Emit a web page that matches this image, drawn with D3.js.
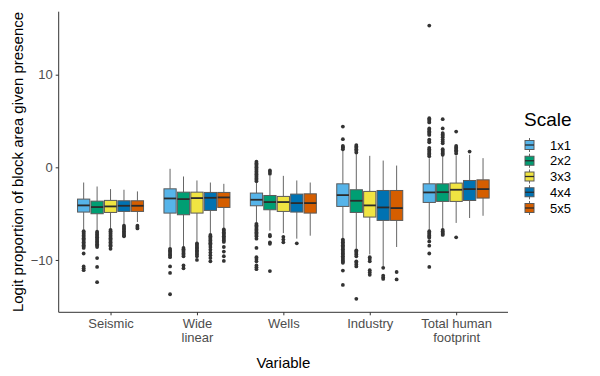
<!DOCTYPE html>
<html>
<head>
<meta charset="utf-8">
<script src="https://cdn.jsdelivr.net/npm/d3@7"></script>
<style>
  html, body { margin: 0; padding: 0; background: #fff; }
  svg { display: block; font-family: "Liberation Sans", Arial, sans-serif; }
</style>
</head>
<body>
<svg id="chart" width="600" height="376"></svg>
<script>
// ---------------- DATA ----------------
const categories = ["Seismic", "Wide\nlinear", "Wells", "Industry", "Total human\nfootprint"];
const scales = ["1x1", "2x2", "3x3", "4x4", "5x5"];
const scaleColors = ["#56B4E9", "#009E73", "#F0E442", "#0072B2", "#D55E00"];
const yTicks = [-10, 0, 10];

// box statistics, indexed [scale][category]
const whiskerLow = [
  [-6.73, -8.70, -6.00, -7.70, -6.80],
  [-6.84, -8.64, -6.84, -8.80, -6.66],
  [-6.66, -8.10, -7.10, -9.40, -6.00],
  [-6.20, -7.17, -7.70, -10.70, -5.47],
  [-5.90, -6.55, -7.38, -8.60, -5.23]
];
const q1 = [
  [-4.83, -4.94, -4.15, -4.22, -3.79],
  [-5.01, -5.12, -4.58, -4.87, -3.68],
  [-4.87, -4.94, -4.76, -5.37, -3.68],
  [-4.76, -4.65, -4.83, -5.73, -3.58],
  [-4.76, -4.33, -4.94, -5.73, -3.32]
];
const median = [
  [-4.11, -3.36, -3.50, -3.00, -2.71],
  [-4.29, -3.43, -3.75, -3.61, -2.68],
  [-4.22, -3.32, -3.75, -4.11, -2.42],
  [-4.15, -3.29, -3.86, -4.33, -2.35],
  [-4.15, -3.25, -3.86, -4.40, -2.35]
];
const q3 = [
  [-3.43, -2.32, -2.78, -1.78, -1.78],
  [-3.65, -2.68, -3.04, -2.42, -1.78],
  [-3.57, -2.68, -3.14, -2.60, -1.70],
  [-3.61, -2.71, -2.89, -2.50, -1.42],
  [-3.61, -2.71, -2.86, -2.50, -1.35]
];
const whiskerHigh = [
  [-1.64, -0.16, -1.60, 1.81, 0.99],
  [-2.07, -0.99, -0.92, 1.42, 1.24],
  [-2.35, -1.42, -0.92, 1.24, 1.27],
  [-2.42, -1.64, -1.42, 0.73, 1.35],
  [-2.60, -1.78, -1.64, 0.19, 0.99]
];
// outliers, indexed [scale][category]
const outliers = [
  [
    [-6.9, -7.05, -7.2, -7.35, -7.5, -7.65, -7.8, -7.95, -8.1, -8.25, -8.4, -8.55, -8.7, -9.3, -10.7, -10.9, -11.1],
    [-8.8, -8.95, -9.1, -9.25, -9.4, -9.55, -9.7, -10.7, -11.4, -13.7],
    [0.6, 0.45, 0.3, 0.15, 0.0, -0.15, -0.3, -0.45, -0.6, -0.75, -0.9, -1.05, -1.2, -1.35, -1.5,
     -6.1, -6.25, -6.4, -6.55, -6.7, -6.85, -7.0, -7.15, -7.3, -7.45, -7.7, -8.7, -9.7, -9.9, -10.15, -10.6, -10.8, -11.0],
    [4.4, 3.04, 2.3, 2.2, 2.1, 1.95,
     -7.8, -7.95, -8.1, -8.25, -8.4, -8.55, -8.7, -8.85, -9.0, -9.15, -9.3, -9.45, -9.6, -9.75, -9.9, -10.05, -10.2, -10.3, -11.15, -12.7],
    [15.3, 5.3, 5.15, 5.0, 4.85, 4.2, 4.05, 3.9, 3.75, 3.6, 3.5, 3.0, 2.85, 2.7, 2.1, 1.95, 1.8, 1.65, 1.5, 1.35, 1.2,
     -6.9, -7.05, -7.2, -7.35, -7.5, -7.6, -8.0, -8.46, -9.3, -10.75]
  ],
  [
    [-6.95, -7.1, -7.25, -7.4, -7.55, -7.7, -7.85, -8.0, -8.15, -8.3, -8.45, -8.6, -9.8, -10.75, -12.4],
    [-8.7, -8.85, -9.0, -9.15, -9.3, -9.45, -9.6, -10.6, -10.9],
    [-0.34, -0.5, -0.7, -7.3, -7.45, -8.1, -8.25, -11.2],
    [2.4, 2.25, 2.1, 1.95, 1.8, 1.6,
     -8.96, -9.1, -9.25, -9.4, -9.6, -10.15, -10.3, -10.5, -10.7, -14.2],
    [5.2, 4.2, 3.7, 3.55, 3.4, 3.25, 3.0, 2.8, 2.6, 1.96, 1.8, 1.65, 1.5, 1.35,
     -6.75, -6.9, -7.05, -7.2, -7.3]
  ],
  [
    [-6.75, -6.9, -7.05, -7.2, -7.35, -7.5, -7.65, -7.8, -7.95, -8.1, -8.25, -8.4, -8.55, -8.8],
    [-8.2, -8.35, -8.5, -8.65, -8.8, -8.95, -9.1, -9.25, -9.4, -9.6, -10.0],
    [-7.5, -7.8, -8.1],
    [-9.7, -9.9, -10.15, -11.1, -11.35, -11.6],
    [3.86, 2.3, 2.15, 2.0, 1.85, 1.7, 1.5, -7.56]
  ],
  [
    [-6.3, -6.45, -6.6, -6.75, -6.9, -7.05, -7.2, -7.35, -7.45],
    [-7.3, -7.45, -7.6, -7.75, -7.9, -8.05, -8.2, -8.35, -8.6, -8.9, -9.2, -9.5, -9.8, -10.15],
    [-8.2],
    [-10.85, -11.7, -11.9, -12.05],
    [1.7]
  ],
  [
    [-6.3, -6.45, -6.6],
    [-6.7, -6.85, -7.0, -7.15, -7.3, -7.45, -7.6, -7.75, -7.9, -8.05, -8.6, -9.1, -9.6, -10.1],
    [],
    [-11.3, -12.1],
    []
  ]
];

// ---------------- LAYOUT ----------------
const svg = d3.select("#chart");
const panel = { left: 58.7, right: 508, top: 11.7, bottom: 312.3 };

const x = d3.scalePoint().domain(categories).range([panel.left, panel.right]).padding(0.6);
const y = d3.scaleLinear().domain([-15.65, 16.8]).range([panel.bottom, panel.top]);
const dodge = d3.scaleBand().domain(scales).range([-33, 33]).paddingInner(0.09);
const boxW = dodge.bandwidth();

const g = svg.append("g");

// boxes
scales.forEach((s, si) => {
  categories.forEach((c, ci) => {
    const cx = x(c) + dodge(s) + boxW / 2;
    const bg = g.append("g");
    // whiskers
    bg.append("line")
      .attr("x1", cx).attr("x2", cx)
      .attr("y1", y(whiskerHigh[si][ci])).attr("y2", y(q3[si][ci]))
      .attr("stroke", "#666").attr("stroke-width", 1);
    bg.append("line")
      .attr("x1", cx).attr("x2", cx)
      .attr("y1", y(q1[si][ci])).attr("y2", y(whiskerLow[si][ci]))
      .attr("stroke", "#666").attr("stroke-width", 1);
    // box
    bg.append("rect")
      .attr("x", cx - boxW / 2).attr("width", boxW)
      .attr("y", y(q3[si][ci])).attr("height", y(q1[si][ci]) - y(q3[si][ci]))
      .attr("fill", scaleColors[si]).attr("stroke", "#5a5a5a").attr("stroke-width", 1);
    // median
    bg.append("line")
      .attr("x1", cx - boxW / 2).attr("x2", cx + boxW / 2)
      .attr("y1", y(median[si][ci])).attr("y2", y(median[si][ci]))
      .attr("stroke", "#2b2b2b").attr("stroke-width", 1.8);
    // outliers
    bg.selectAll("circle").data(outliers[si][ci]).join("circle")
      .attr("cx", cx).attr("cy", d => y(d)).attr("r", 1.9)
      .attr("fill", "#333");
  });
});

// axes
const axisColor = "#333";
const tickColor = "#4D4D4D";

const yAxis = svg.append("g").attr("transform", `translate(${panel.left},0)`)
  .call(d3.axisLeft(y).tickValues(yTicks).tickSize(3).tickPadding(3).tickFormat(d3.format("d")));
yAxis.select(".domain").attr("d", `M0,${panel.top}V${panel.bottom}`).attr("stroke", axisColor);
yAxis.selectAll(".tick line").attr("stroke", axisColor);
yAxis.selectAll(".tick text").attr("fill", tickColor).attr("font-size", 13)
  .attr("font-family", "Liberation Sans, Arial, sans-serif");

const xAxis = svg.append("g").attr("transform", `translate(0,${panel.bottom})`)
  .call(d3.axisBottom(x).tickSize(3).tickPadding(3));
xAxis.select(".domain").attr("d", `M${panel.left},0H${panel.right}`).attr("stroke", axisColor);
xAxis.selectAll(".tick line").attr("stroke", axisColor);
xAxis.selectAll(".tick text").each(function(d) {
  const t = d3.select(this);
  t.text(null).attr("fill", tickColor).attr("font-size", 13)
    .attr("font-family", "Liberation Sans, Arial, sans-serif").attr("dy", null).attr("y", 0);
  d.split("\n").forEach((line, i) => {
    t.append("tspan").attr("x", 0).attr("y", 16 + i * 13.5).text(line);
  });
});

// axis titles
svg.append("text")
  .attr("x", (panel.left + panel.right) / 2).attr("y", 367.5)
  .attr("text-anchor", "middle").attr("font-size", 15).attr("fill", "#000")
  .text("Variable");
svg.append("text")
  .attr("transform", `translate(23,${(panel.top + panel.bottom) / 2}) rotate(-90)`)
  .attr("text-anchor", "middle").attr("font-size", 15).attr("fill", "#000")
  .text("Logit proportion of block area given presence");

// legend
const lg = svg.append("g");
lg.append("text").attr("x", 524).attr("y", 126).attr("font-size", 19).attr("fill", "#000").text("Scale");
const ly = d3.scalePoint().domain(scales).range([145, 208]);
scales.forEach((s, i) => {
  const cy = ly(s);
  lg.append("line").attr("x1", 529.5).attr("x2", 529.5).attr("y1", cy - 7).attr("y2", cy + 7)
    .attr("stroke", "#666");
  lg.append("rect").attr("x", 525).attr("y", cy - 4.5).attr("width", 9).attr("height", 9)
    .attr("fill", scaleColors[i]).attr("stroke", "#5a5a5a");
  lg.append("line").attr("x1", 525).attr("x2", 534).attr("y1", cy).attr("y2", cy)
    .attr("stroke", "#2b2b2b").attr("stroke-width", 1.3);
  lg.append("text").attr("x", 550).attr("y", cy + 4.5).attr("font-size", 13).attr("fill", "#000").text(s);
});
</script>
</body>
</html>
